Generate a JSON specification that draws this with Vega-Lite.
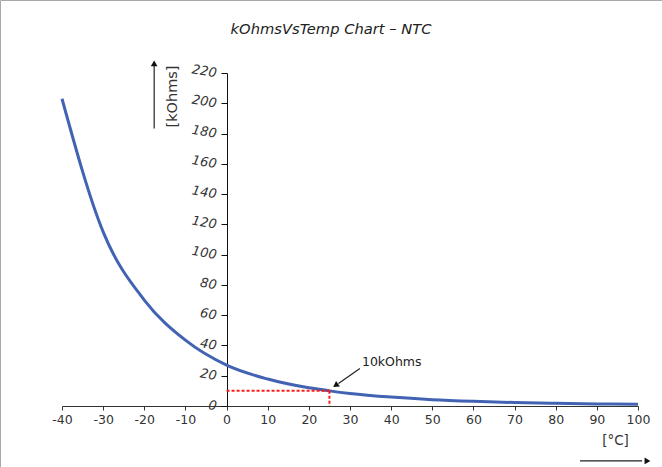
{
  "$schema": "https://vega.github.io/schema/vega-lite/v6.json",
  "width": 662,
  "height": 467,
  "autosize": {"type": "none"},
  "padding": 0,
  "background": "white",
  "config": {
    "view": {"stroke": "#a8a8a8", "strokeWidth": 1},
    "font": "DejaVu Sans"
  },
  "title": {
    "text": "kOhmsVsTemp Chart – NTC",
    "fontStyle": "italic",
    "fontWeight": "normal",
    "fontSize": 14.7,
    "color": "#222",
    "anchor": "middle",
    "offset": -45,
    "baseline": "middle"
  },
  "datasets": {
    "curve": [
      {"t": -40, "k": 203},
      {"t": -30, "k": 115},
      {"t": -20, "k": 70},
      {"t": -10, "k": 43.5},
      {"t": 0, "k": 27},
      {"t": 10, "k": 17.8},
      {"t": 20, "k": 12},
      {"t": 25, "k": 10},
      {"t": 30, "k": 8.3},
      {"t": 40, "k": 5.9},
      {"t": 50, "k": 4.2},
      {"t": 60, "k": 3.1},
      {"t": 70, "k": 2.3},
      {"t": 80, "k": 1.8},
      {"t": 90, "k": 1.4},
      {"t": 100, "k": 1.1}
    ],
    "guides": [
      {"t": 0, "k": 10, "t2": 25, "k2": 10},
      {"t": 25, "k": 10, "t2": 25, "k2": 0}
    ],
    "arrows": [
      {"t": -17.6, "k": 183.3, "t2": -17.6, "k2": 225},
      {"t": 85.9, "k": -36.3, "t2": 101, "k2": -36.3},
      {"t": 32.4, "k": 24.8, "t2": 27.2, "k2": 14.8}
    ],
    "heads": [
      {"t": -17.6, "k": 226.3, "ang": 0},
      {"t": 102.3, "k": -36.3, "ang": 90},
      {"t": 26.5, "k": 13.6, "ang": 235}
    ],
    "notes": [
      {"t": 32.9, "k": 29, "label": "10kOhms"}
    ]
  },
  "layer": [
    {
      "data": {"name": "curve"},
      "mark": {"type": "line", "interpolate": "monotone", "color": "#4263b3", "strokeWidth": 3},
      "encoding": {
        "x": {
          "field": "t", "type": "quantitative",
          "scale": {"domain": [-40, 100], "range": [62, 638], "nice": false, "zero": false},
          "axis": {
            "values": [-40, -30, -20, -10, 0, 10, 20, 30, 40, 50, 60, 70, 80, 90, 100],
            "labelExpr": "toString(datum.value)",
            "offset": -61,
            "grid": false,
            "title": "[°C]",
            "titleX": 615,
            "titleY": 34,
            "titleAlign": "center",
            "titleBaseline": "middle",
            "titleFontWeight": "normal",
            "titleFontSize": 13.5,
            "titleColor": "#333",
            "labelFontSize": 12.5,
            "labelColor": "#333",
            "labelPadding": 3,
            "labelFlush": false,
            "labelOverlap": false,
            "tickSize": 4,
            "tickColor": "#333",
            "domainColor": "#333"
          }
        },
        "y": {
          "field": "k", "type": "quantitative",
          "scale": {"domain": [0, 220], "range": [406, 73], "nice": false, "zero": false},
          "axis": {
            "values": [0, 20, 40, 60, 80, 100, 120, 140, 160, 180, 200, 220],
            "offset": -227,
            "grid": false,
            "title": "[kOhms]",
            "titleX": -55,
            "titleY": 96,
            "titleAngle": -90,
            "titleAlign": "center",
            "titleBaseline": "middle",
            "titleFontWeight": "normal",
            "titleFontSize": 14.5,
            "titleColor": "#333",
            "labelFontSize": 13,
            "labelFontStyle": "italic",
            "labelAngle": 10,
            "labelColor": "#333",
            "labelPadding": 5,
            "labelOverlap": false,
            "tickSize": 6,
            "tickColor": "#111",
            "domainColor": "#111"
          }
        }
      }
    },
    {
      "data": {"name": "guides"},
      "mark": {"type": "rule", "color": "#ff1a1a", "strokeWidth": 2, "strokeDash": [3, 2]},
      "encoding": {
        "x": {"field": "t", "type": "quantitative"},
        "y": {"field": "k", "type": "quantitative"},
        "x2": {"field": "t2"},
        "y2": {"field": "k2"}
      }
    },
    {
      "data": {"name": "arrows"},
      "mark": {"type": "rule", "color": "#222", "strokeWidth": 1.2},
      "encoding": {
        "x": {"field": "t", "type": "quantitative"},
        "y": {"field": "k", "type": "quantitative"},
        "x2": {"field": "t2"},
        "y2": {"field": "k2"}
      }
    },
    {
      "data": {"name": "heads"},
      "mark": {"type": "point", "shape": "triangle-up", "filled": true, "color": "#111", "size": 45, "opacity": 1},
      "encoding": {
        "x": {"field": "t", "type": "quantitative"},
        "y": {"field": "k", "type": "quantitative"},
        "angle": {"field": "ang", "type": "quantitative", "scale": null}
      }
    },
    {
      "data": {"name": "notes"},
      "mark": {"type": "text", "align": "left", "baseline": "middle", "fontSize": 12.5, "color": "#222"},
      "encoding": {
        "x": {"field": "t", "type": "quantitative"},
        "y": {"field": "k", "type": "quantitative"},
        "text": {"field": "label"}
      }
    }
  ]
}
